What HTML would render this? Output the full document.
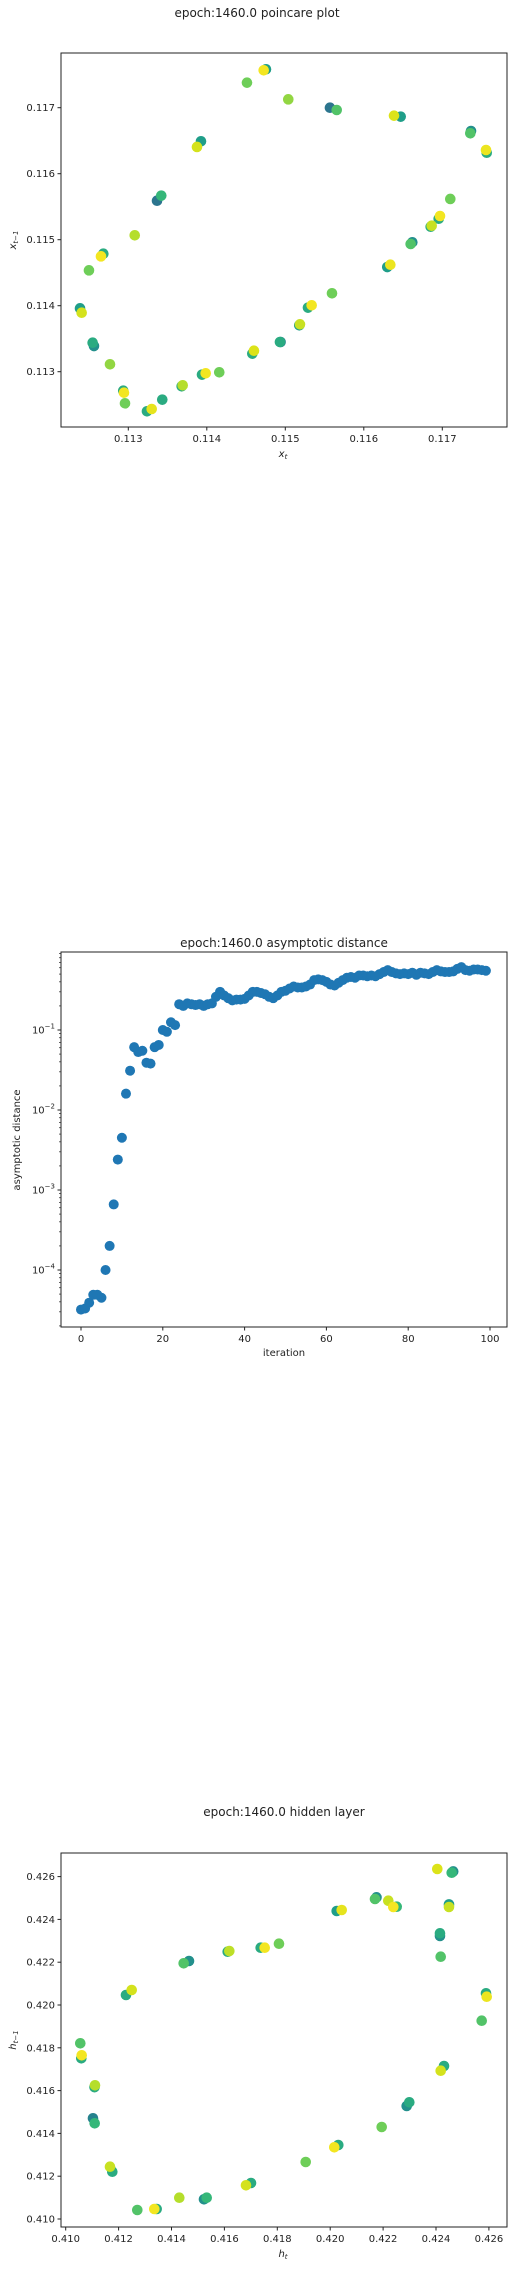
<!DOCTYPE html>
<html><head><meta charset="utf-8"><style>
body{margin:0;background:#fff;}
svg{display:block;font-family:"DejaVu Sans","Liberation Sans",sans-serif;}
</style></head><body>
<svg id="fig" width="514" height="2269" viewBox="0 0 514 2269" xmlns="http://www.w3.org/2000/svg">
<rect x="0" y="0" width="514" height="2269" fill="#fff"/>
</svg>
<script>
// ---------- Plot 1 data: poincare ----------
const p1X=[0.114512,0.114754,0.114725,0.115038,0.115569,0.115655,0.116470,0.116385,0.117366,0.117357,0.117566,0.117557,0.113926,0.113875,0.113366,0.113420,0.113082,0.112682,0.112652,0.112499,0.112385,0.112406,0.117102,0.116954,0.116971,0.116852,0.116865,0.116618,0.116597,0.116299,0.116338,0.115595,0.115289,0.115336,0.115178,0.115187,0.114940,0.114932,0.114580,0.114601,0.114159,0.113939,0.113986,0.113680,0.113693,0.113433,0.113238,0.113298,0.112958,0.112936,0.112945,0.112767,0.112563,0.112546];
const p1Y=[0.117379,0.117582,0.117567,0.117127,0.117000,0.116965,0.116864,0.116879,0.116647,0.116612,0.116318,0.116359,0.116491,0.116405,0.115591,0.115667,0.115067,0.114788,0.114748,0.114536,0.113960,0.113894,0.115617,0.115318,0.115359,0.115197,0.115212,0.114961,0.114935,0.114586,0.114621,0.114188,0.113970,0.114006,0.113703,0.113718,0.113450,0.113450,0.113273,0.113318,0.112991,0.112955,0.112976,0.112779,0.112794,0.112576,0.112400,0.112435,0.112521,0.112712,0.112682,0.113112,0.113389,0.113439];
const p1C=[0.7,0.5,0.97,0.75,0.35,0.65,0.5,0.9,0.45,0.65,0.55,0.95,0.5,0.88,0.35,0.6,0.8,0.55,0.97,0.7,0.5,0.88,0.7,0.55,0.97,0.55,0.85,0.45,0.65,0.5,0.95,0.7,0.55,0.97,0.5,0.85,0.4,0.55,0.55,0.9,0.7,0.55,0.97,0.55,0.8,0.55,0.55,0.93,0.7,0.55,0.97,0.75,0.45,0.55];
const p1XTicks=[0.113,0.114,0.115,0.116,0.117];
const p1YTicks=[0.113,0.114,0.115,0.116,0.117];

// ---------- Plot 2 data: asymptotic distance ----------
const p2Vals=[3.2e-5,3.3e-5,3.9e-5,4.9e-5,4.9e-5,4.5e-5,1e-4,2e-4,6.6e-4,2.4e-3,4.5e-3,1.6e-2,3.1e-2,6.1e-2,5.3e-2,5.5e-2,3.9e-2,3.8e-2,6.1e-2,6.5e-2,0.1,0.095,0.125,0.115,0.21,0.2,0.215,0.21,0.205,0.21,0.2,0.21,0.215,0.26,0.3,0.27,0.25,0.235,0.24,0.24,0.245,0.27,0.3,0.3,0.29,0.28,0.26,0.25,0.27,0.3,0.31,0.33,0.35,0.34,0.34,0.35,0.37,0.42,0.43,0.42,0.4,0.37,0.36,0.39,0.42,0.45,0.46,0.45,0.48,0.48,0.47,0.48,0.47,0.5,0.53,0.56,0.53,0.51,0.5,0.51,0.5,0.52,0.49,0.52,0.51,0.5,0.53,0.56,0.54,0.53,0.53,0.54,0.58,0.61,0.56,0.55,0.57,0.57,0.56,0.55];
const p2XTicks=[0,20,40,60,80,100];
const p2YExps=[-1,-2,-3,-4];

// ---------- Plot 3 data: hidden layer ----------
const p3X=[0.420246,0.420435,0.421750,0.421694,0.422197,0.422514,0.422386,0.424049,0.424650,0.424594,0.424491,0.424491,0.424151,0.424151,0.424178,0.425891,0.425917,0.425728,0.424303,0.424178,0.422892,0.422991,0.421947,0.420306,0.420155,0.419074,0.417006,0.416817,0.415229,0.415331,0.414295,0.413440,0.413350,0.412707,0.411762,0.411675,0.411032,0.411096,0.411090,0.411108,0.410590,0.410605,0.410552,0.412280,0.412495,0.414662,0.414461,0.416125,0.416186,0.417372,0.417524,0.418064];
const p3Y=[0.424393,0.424439,0.425030,0.424953,0.424874,0.424593,0.424579,0.426355,0.426240,0.426182,0.424700,0.424579,0.423224,0.423350,0.422257,0.420547,0.420388,0.419266,0.417150,0.416930,0.415280,0.415453,0.414299,0.413458,0.413350,0.412664,0.411682,0.411575,0.410921,0.410995,0.410995,0.410467,0.410467,0.410421,0.412210,0.412444,0.414706,0.414472,0.416160,0.416248,0.417509,0.417650,0.418210,0.420467,0.420701,0.422056,0.421949,0.422491,0.422523,0.422678,0.422678,0.422864];
const p3C=[0.5,0.93,0.45,0.65,0.85,0.6,0.98,0.9,0.45,0.6,0.5,0.85,0.45,0.55,0.65,0.55,0.95,0.65,0.55,0.88,0.45,0.55,0.7,0.55,0.97,0.7,0.55,0.88,0.45,0.6,0.8,0.55,0.97,0.65,0.55,0.85,0.4,0.6,0.55,0.8,0.55,0.97,0.65,0.55,0.88,0.45,0.65,0.55,0.82,0.55,0.97,0.7];
const p3XTicks=[0.410,0.412,0.414,0.416,0.418,0.420,0.422,0.424,0.426];
const p3YTicks=[0.410,0.412,0.414,0.416,0.418,0.420,0.422,0.424,0.426];

const NS='http://www.w3.org/2000/svg';
const svg=document.getElementById('fig');
function mk(tag,attrs,parent){const e=document.createElementNS(NS,tag);for(const k in attrs)e.setAttribute(k,attrs[k]);(parent||svg).appendChild(e);return e;}
const stops=[[0,[68,1,84]],[0.1,[72,40,120]],[0.2,[62,73,137]],[0.3,[49,104,142]],[0.4,[38,130,142]],[0.5,[31,158,137]],[0.6,[53,183,121]],[0.7,[110,206,88]],[0.8,[181,222,43]],[0.9,[220,227,25]],[1,[253,231,37]]];
function viridis(t){for(let i=0;i<stops.length-1;i++){const a=stops[i],b=stops[i+1];if(t<=b[0]){const f=(t-a[0])/(b[0]-a[0]);const c=a[1].map((v,j)=>Math.round(v+(b[1][j]-v)*f));return 'rgb('+c.join(',')+')';}}return 'rgb(253,231,37)';}

function frame(L,T,R,B,name){
  const r=mk('rect',{x:L,y:T,width:R-L,height:B-T,fill:'none',stroke:'#222',"stroke-width":1});
  
  
}
function text(x,y,s,opts,name){
  const t=mk('text',Object.assign({x:x,y:y,"font-size":10,fill:'#222'},opts||{}));
  t.textContent=s;
  
  
  return t;
}
function xtick(px,B,label){
  mk('line',{x1:px,y1:B,x2:px,y2:B+3.5,stroke:'#222'});
  text(px,B+15,label,{"text-anchor":'middle'},'x-tick-label');
}
function ytick(py,L,label){
  mk('line',{x1:L-3.5,y1:py,x2:L,y2:py,stroke:'#222'});
  text(L-6,py+3.5,label,{"text-anchor":'end'},'y-tick-label');
}

// ---- Plot 1 ----
(function(){
  const L=61,T=53,R=507,B=427;
  const sx=v=>128.3+(v-0.113)*78500, sy=v=>107.7+(0.117-v)*66000;
  text(257,17,'epoch:1460.0 poincare plot',{"text-anchor":'middle',"font-size":12},'poincare-title');
  const g=mk('g',{});
  
  
  for(let i=0;i<p1X.length;i++){
    const c=mk('circle',{cx:sx(p1X[i]),cy:sy(p1Y[i]),r:5.3,fill:viridis(p1C[i])},g);
    
    
  }
  frame(L,T,R,B,'poincare-axes');
  p1XTicks.forEach(v=>xtick(sx(v),B,v.toFixed(3)));
  p1YTicks.forEach(v=>ytick(sy(v),L,v.toFixed(3)));
  const xl=text(283,457,'x',{"text-anchor":'middle',"font-style":'italic'},'poincare-x-label');
  const xs=mk('tspan',{"font-size":7,dy:2},xl);xs.textContent='t';
  const yl=text(0,0,'x',{"text-anchor":'middle',"font-style":'italic',transform:'translate(16,240) rotate(-90)'},'poincare-y-label');
  const ys=mk('tspan',{"font-size":7,dy:2},yl);ys.textContent='t−1';
})();

// ---- Plot 2 ----
(function(){
  const L=61,T=952,R=507,B=1327;
  const sx=v=>81+v*4.09, sy=v=>1030-(Math.log10(v)+1)*80;
  text(284,947,'epoch:1460.0 asymptotic distance',{"text-anchor":'middle',"font-size":12},'asymptotic-title');
  const g=mk('g',{});
  
  
  p2Vals.forEach((v,i)=>{
    const c=mk('circle',{cx:sx(i),cy:sy(v),r:5,fill:'#1f77b4'},g);
    
    
  });
  frame(L,T,R,B,'asymptotic-axes');
  p2XTicks.forEach(v=>xtick(sx(v),B,String(v)));
  p2YExps.forEach(e=>{
    const py=sy(Math.pow(10,e));
    mk('line',{x1:L-3.5,y1:py,x2:L,y2:py,stroke:'#222'});
    const t=text(L-6,py+3.5,'10',{"text-anchor":'end'},'y-tick-label');
    const s=mk('tspan',{"font-size":7,dy:-5},t);s.textContent='−'+(-e);
  });
  for(let e=-5;e<=0;e++){for(let m=2;m<=9;m++){const py=sy(m*Math.pow(10,e));if(py>T&&py<B)mk('line',{x1:L-2,y1:py,x2:L,y2:py,stroke:'#222',"stroke-width":0.7});}}
  text(284,1356,'iteration',{"text-anchor":'middle'},'asymptotic-x-label');
  text(0,0,'asymptotic distance',{"text-anchor":'middle',transform:'translate(20,1140) rotate(-90)'},'asymptotic-y-label');
})();

// ---- Plot 3 ----
(function(){
  const L=61,T=1853,R=507,B=2227;
  const sx=v=>65.7+(v-0.410)*26450, sy=v=>2219-(v-0.410)*21400;
  text(284,1816,'epoch:1460.0 hidden layer',{"text-anchor":'middle',"font-size":12},'hidden-title');
  const g=mk('g',{});
  
  
  for(let i=0;i<p3X.length;i++){
    const c=mk('circle',{cx:sx(p3X[i]),cy:sy(p3Y[i]),r:5.3,fill:viridis(p3C[i])},g);
    
    
  }
  frame(L,T,R,B,'hidden-axes');
  p3XTicks.forEach(v=>xtick(sx(v),B,v.toFixed(3)));
  p3YTicks.forEach(v=>ytick(sy(v),L,v.toFixed(3)));
  const xl=text(283,2257,'h',{"text-anchor":'middle',"font-style":'italic'},'hidden-x-label');
  const xs=mk('tspan',{"font-size":7,dy:2},xl);xs.textContent='t';
  const yl=text(0,0,'h',{"text-anchor":'middle',"font-style":'italic',transform:'translate(16,2040) rotate(-90)'},'hidden-y-label');
  const ys=mk('tspan',{"font-size":7,dy:2},yl);ys.textContent='t−1';
})();
</script>
</body></html>
